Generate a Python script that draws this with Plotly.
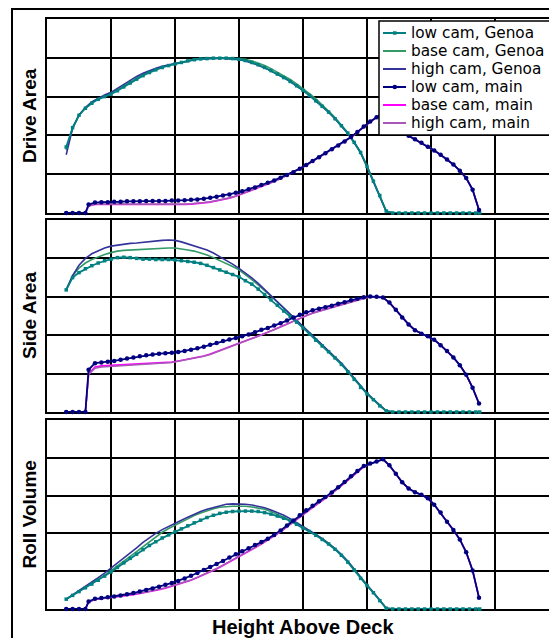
import plotly.graph_objects as go

# The page body has an 8px margin, so the figure is sized to fit the 557x638 window
PAGE_W, PAGE_H, OFF = 557, 638, 8
W, H = PAGE_W - OFF, PAGE_H - OFF

# ---------------- data ----------------
X_GENOA = [0.3, 0.4, 0.5, 0.6, 0.7, 0.8, 0.9, 1.0, 1.1, 1.2, 1.3, 1.4, 1.5, 1.6, 1.7, 1.8, 1.9,
           2.0, 2.1, 2.2, 2.3, 2.4, 2.5, 2.6, 2.7, 2.8, 2.9, 3.0, 3.1, 3.2, 3.3, 3.4, 3.5, 3.6,
           3.7, 3.8, 3.9, 4.0, 4.1, 4.2, 4.3, 4.4, 4.5, 4.6, 4.7, 4.8, 4.9, 5.0, 5.1, 5.2, 5.3,
           5.4, 5.5, 5.6, 5.7, 5.8, 5.9, 6.0, 6.1, 6.2, 6.3, 6.4, 6.5, 6.6, 6.7, 6.76]
X_MAIN = [0.3, 0.4, 0.5, 0.6,
          0.65, 0.75, 0.85, 0.95, 1.05, 1.15, 1.25, 1.35, 1.45, 1.55,
          1.65, 1.75, 1.85, 1.95, 2.05, 2.15, 2.25, 2.35, 2.45, 2.55,
          2.65, 2.75, 2.85, 2.95, 3.05, 3.15, 3.25, 3.35, 3.45, 3.55,
          3.65, 3.75, 3.85, 3.95, 4.05, 4.15, 4.25, 4.35, 4.45, 4.55,
          4.65, 4.75, 4.85, 4.95, 5.05, 5.15, 5.25, 5.35, 5.45, 5.55,
          5.65, 5.75, 5.85, 5.95, 6.05, 6.15, 6.25, 6.35, 6.45, 6.55,
          6.65, 6.75]

# Drive Area
DRIVE_LOW_GENOA = [1.70, 2.20, 2.52, 2.70, 2.83, 2.93, 3.00, 3.06, 3.15, 3.25, 3.35, 3.45, 3.54, 3.62, 3.69,
                   3.75, 3.80, 3.84, 3.88, 3.92, 3.95, 3.97, 3.98, 3.99, 3.99, 3.99, 3.98, 3.96, 3.93, 3.88,
                   3.82, 3.75, 3.67, 3.58, 3.49, 3.39, 3.28, 3.16, 3.03, 2.89, 2.75, 2.60, 2.43, 2.25, 2.06,
                   1.82, 1.56, 1.20, 0.82, 0.45, 0.05,
                   0, 0, 0, 0, 0, 0, 0, 0, 0, 0, 0, 0, 0, 0, 0]
DRIVE_BASE_GENOA = [1.62, 2.19, 2.52, 2.71, 2.85, 2.95, 3.02, 3.09, 3.18, 3.28, 3.38, 3.48, 3.57, 3.64, 3.71,
                    3.77, 3.81, 3.85, 3.89, 3.93, 3.96, 3.98, 3.99, 4.00, 4.00, 4.00, 3.99, 3.98, 3.96, 3.92,
                    3.87, 3.80, 3.72, 3.63, 3.54, 3.44, 3.33, 3.21, 3.08, 2.94, 2.79, 2.63, 2.46, 2.27, 2.07,
                    1.83, 1.57, 1.21, 0.83, 0.46, 0.05,
                    0, 0, 0, 0, 0, 0, 0, 0, 0, 0, 0, 0, 0, 0, 0]
DRIVE_HIGH_GENOA = [1.50, 2.18, 2.53, 2.72, 2.86, 2.96, 3.04, 3.11, 3.21, 3.32, 3.43, 3.52, 3.60, 3.67, 3.73,
                    3.78, 3.82, 3.85, 3.88, 3.92, 3.95, 3.97, 3.98, 3.99, 3.99, 3.98, 3.97, 3.95, 3.92, 3.87,
                    3.81, 3.74, 3.66, 3.58, 3.49, 3.39, 3.28, 3.16, 3.03, 2.89, 2.75, 2.60, 2.43, 2.25, 2.05,
                    1.81, 1.55, 1.19, 0.81, 0.44, 0.04,
                    0, 0, 0, 0, 0, 0, 0, 0, 0, 0, 0, 0, 0, 0, 0]
DRIVE_LOW_MAIN = [0, 0, 0, 0,
                  0.22, 0.27, 0.28, 0.28, 0.29, 0.29, 0.30, 0.30, 0.30, 0.31,
                  0.31, 0.31, 0.31, 0.32, 0.32, 0.33, 0.34, 0.35, 0.37, 0.39,
                  0.42, 0.45, 0.48, 0.52, 0.56, 0.61, 0.66, 0.72, 0.78, 0.84,
                  0.91, 0.98, 1.05, 1.14, 1.24, 1.34, 1.44, 1.54, 1.64, 1.74,
                  1.84, 1.96, 2.09, 2.23, 2.36, 2.47, 2.58, 2.55, 2.33, 2.12,
                  1.99, 1.90, 1.81, 1.71, 1.61, 1.50, 1.38, 1.25, 1.09, 0.90,
                  0.60, 0.08]
DRIVE_BASE_MAIN = [0, 0, 0, 0,
                   0.18, 0.22, 0.22, 0.22, 0.22, 0.22, 0.22, 0.21, 0.21, 0.21,
                   0.21, 0.21, 0.21, 0.21, 0.21, 0.22, 0.23, 0.24, 0.26, 0.28,
                   0.31, 0.34, 0.38, 0.43, 0.49, 0.55, 0.61, 0.67, 0.74, 0.81,
                   0.89, 0.97, 1.05, 1.14, 1.23, 1.33, 1.43, 1.53, 1.63, 1.73,
                   1.83, 1.95, 2.08, 2.22, 2.35, 2.46, 2.57, 2.54, 2.33, 2.12,
                   1.99, 1.90, 1.81, 1.71, 1.61, 1.50, 1.38, 1.25, 1.09, 0.90,
                   0.60, 0.08]
DRIVE_HIGH_MAIN = [0, 0, 0, 0,
                   0.19, 0.23, 0.23, 0.23, 0.23, 0.23, 0.23, 0.22, 0.22, 0.22,
                   0.22, 0.22, 0.22, 0.22, 0.22, 0.23, 0.24, 0.25, 0.27, 0.29,
                   0.32, 0.35, 0.39, 0.44, 0.50, 0.56, 0.62, 0.68, 0.75, 0.82,
                   0.89, 0.97, 1.05, 1.14, 1.23, 1.33, 1.43, 1.53, 1.63, 1.73,
                   1.83, 1.95, 2.08, 2.22, 2.35, 2.46, 2.57, 2.54, 2.33, 2.12,
                   1.99, 1.90, 1.81, 1.71, 1.61, 1.50, 1.38, 1.25, 1.09, 0.90,
                   0.60, 0.08]

# Side Area
SIDE_LOW_GENOA = [3.18, 3.50, 3.63, 3.73, 3.81, 3.88, 3.94, 3.98, 4.02, 4.03, 4.02, 4.00, 3.98, 3.98, 3.97,
                  3.97, 3.97, 3.96, 3.94, 3.92, 3.90, 3.87, 3.82, 3.76, 3.70, 3.64, 3.58, 3.52, 3.42, 3.33,
                  3.20, 3.06, 2.92, 2.78, 2.63, 2.49, 2.34, 2.19, 2.03, 1.87, 1.72, 1.57, 1.41, 1.24, 1.05,
                  0.85, 0.64, 0.47, 0.32, 0.16, 0.03,
                  0, 0, 0, 0, 0, 0, 0, 0, 0, 0, 0, 0, 0, 0, 0]
SIDE_BASE_GENOA = [3.18, 3.55, 3.75, 3.88, 3.97, 4.04, 4.10, 4.15, 4.19, 4.21, 4.22, 4.23, 4.24, 4.24, 4.25,
                   4.26, 4.27, 4.27, 4.25, 4.22, 4.19, 4.15, 4.09, 4.02, 3.95, 3.87, 3.79, 3.70, 3.58, 3.45,
                   3.31, 3.17, 3.02, 2.86, 2.70, 2.54, 2.38, 2.22, 2.06, 1.90, 1.74, 1.59, 1.43, 1.26, 1.07,
                   0.87, 0.66, 0.48, 0.33, 0.17, 0.03,
                   0, 0, 0, 0, 0, 0, 0, 0, 0, 0, 0, 0, 0, 0, 0]
SIDE_HIGH_GENOA = [3.18, 3.55, 3.82, 4.00, 4.12, 4.20, 4.27, 4.32, 4.35, 4.38, 4.39, 4.40, 4.42, 4.44, 4.46,
                   4.47, 4.48, 4.47, 4.43, 4.38, 4.34, 4.29, 4.22, 4.14, 4.05, 3.96, 3.85, 3.74, 3.62, 3.49,
                   3.35, 3.19, 3.02, 2.86, 2.71, 2.56, 2.40, 2.24, 2.08, 1.92, 1.76, 1.60, 1.44, 1.27, 1.08,
                   0.88, 0.67, 0.49, 0.33, 0.17, 0.03,
                   0, 0, 0, 0, 0, 0, 0, 0, 0, 0, 0, 0, 0, 0, 0]
SIDE_LOW_MAIN = [0, 0, 0, 0,
                 1.10, 1.27, 1.29, 1.31, 1.33, 1.36, 1.39, 1.42, 1.45, 1.48,
                 1.50, 1.52, 1.53, 1.54, 1.56, 1.59, 1.62, 1.66, 1.70, 1.75,
                 1.80, 1.85, 1.89, 1.93, 1.97, 2.02, 2.08, 2.14, 2.19, 2.25,
                 2.31, 2.38, 2.46, 2.53, 2.60, 2.65, 2.69, 2.73, 2.77, 2.82,
                 2.86, 2.91, 2.95, 2.99, 3.01, 3.00, 2.98, 2.85, 2.66, 2.46,
                 2.28, 2.13, 2.04, 1.97, 1.88, 1.74, 1.59, 1.42, 1.22, 0.97,
                 0.63, 0.22]
SIDE_BASE_MAIN = [0, 0, 0, 0,
                  1.00, 1.17, 1.20, 1.21, 1.22, 1.23, 1.24, 1.25, 1.26, 1.27,
                  1.28, 1.28, 1.29, 1.30, 1.33, 1.36, 1.39, 1.42, 1.46, 1.51,
                  1.57, 1.63, 1.69, 1.76, 1.83, 1.89, 1.95, 2.01, 2.08, 2.15,
                  2.22, 2.30, 2.38, 2.45, 2.52, 2.58, 2.63, 2.68, 2.72, 2.77,
                  2.82, 2.87, 2.92, 2.97, 3.00, 3.00, 2.98, 2.85, 2.66, 2.46,
                  2.28, 2.13, 2.04, 1.97, 1.88, 1.74, 1.59, 1.42, 1.22, 0.97,
                  0.63, 0.22]
SIDE_HIGH_MAIN = [0, 0, 0, 0,
                  0.98, 1.14, 1.17, 1.18, 1.19, 1.20, 1.21, 1.22, 1.23, 1.24,
                  1.25, 1.26, 1.27, 1.29, 1.32, 1.35, 1.38, 1.41, 1.45, 1.50,
                  1.56, 1.62, 1.68, 1.75, 1.82, 1.88, 1.94, 2.00, 2.07, 2.14,
                  2.21, 2.29, 2.37, 2.44, 2.51, 2.57, 2.62, 2.67, 2.71, 2.76,
                  2.81, 2.86, 2.91, 2.96, 3.00, 3.00, 2.98, 2.85, 2.66, 2.46,
                  2.28, 2.13, 2.04, 1.97, 1.88, 1.74, 1.59, 1.42, 1.22, 0.97,
                  0.63, 0.22]

# Roll Volume
ROLL_LOW_GENOA = [0.26, 0.36, 0.46, 0.56, 0.66, 0.76, 0.87, 0.98, 1.10, 1.22, 1.34, 1.45, 1.57, 1.68, 1.78,
                  1.88, 1.96, 2.04, 2.12, 2.20, 2.28, 2.35, 2.42, 2.48, 2.53, 2.56, 2.58, 2.59, 2.59, 2.59,
                  2.58, 2.55, 2.51, 2.46, 2.40, 2.33, 2.24, 2.14, 2.05, 1.95, 1.84, 1.72, 1.58, 1.42, 1.24,
                  1.03, 0.81, 0.62, 0.43, 0.22, 0.02,
                  0, 0, 0, 0, 0, 0, 0, 0, 0, 0, 0, 0, 0, 0, 0]
ROLL_BASE_GENOA = [0.26, 0.36, 0.46, 0.56, 0.67, 0.78, 0.89, 1.01, 1.13, 1.26, 1.39, 1.52, 1.65, 1.79, 1.92,
                   2.03, 2.13, 2.22, 2.31, 2.39, 2.47, 2.54, 2.60, 2.65, 2.69, 2.71, 2.72, 2.72, 2.72, 2.70,
                   2.68, 2.64, 2.58, 2.51, 2.43, 2.35, 2.26, 2.16, 2.07, 1.97, 1.86, 1.74, 1.60, 1.44, 1.26,
                   1.05, 0.83, 0.63, 0.44, 0.23, 0.02,
                   0, 0, 0, 0, 0, 0, 0, 0, 0, 0, 0, 0, 0, 0, 0]
ROLL_HIGH_GENOA = [0.26, 0.37, 0.48, 0.59, 0.71, 0.83, 0.95, 1.08, 1.21, 1.35, 1.48, 1.62, 1.76, 1.89, 2.00,
                   2.10, 2.19, 2.27, 2.35, 2.43, 2.51, 2.58, 2.64, 2.69, 2.73, 2.77, 2.78, 2.78, 2.77, 2.75,
                   2.72, 2.68, 2.62, 2.56, 2.48, 2.39, 2.29, 2.18, 2.08, 1.97, 1.86, 1.74, 1.60, 1.44, 1.26,
                   1.05, 0.83, 0.63, 0.44, 0.23, 0.02,
                   0, 0, 0, 0, 0, 0, 0, 0, 0, 0, 0, 0, 0, 0, 0]
ROLL_LOW_MAIN = [0, 0, 0, 0,
                 0.20, 0.27, 0.29, 0.31, 0.33, 0.36, 0.39, 0.42, 0.46, 0.50,
                 0.54, 0.59, 0.64, 0.69, 0.74, 0.81, 0.88, 0.95, 1.03, 1.11,
                 1.19, 1.27, 1.36, 1.45, 1.53, 1.61, 1.69, 1.77, 1.86, 1.96,
                 2.08, 2.21, 2.34, 2.48, 2.61, 2.73, 2.85, 2.96, 3.08, 3.22,
                 3.36, 3.51, 3.65, 3.78, 3.85, 3.90, 3.96, 3.80, 3.58, 3.35,
                 3.19, 3.09, 3.02, 2.93, 2.76, 2.55, 2.31, 2.09, 1.84, 1.50,
                 1.02, 0.30]
ROLL_BASE_MAIN = [0, 0, 0, 0,
                  0.18, 0.25, 0.27, 0.29, 0.31, 0.33, 0.36, 0.38, 0.41, 0.44,
                  0.47, 0.51, 0.55, 0.60, 0.65, 0.70, 0.76, 0.83, 0.90, 0.98,
                  1.06, 1.15, 1.24, 1.33, 1.42, 1.52, 1.62, 1.72, 1.82, 1.92,
                  2.04, 2.17, 2.30, 2.44, 2.57, 2.69, 2.81, 2.93, 3.05, 3.19,
                  3.33, 3.48, 3.62, 3.76, 3.84, 3.90, 3.96, 3.80, 3.58, 3.35,
                  3.19, 3.09, 3.02, 2.93, 2.76, 2.55, 2.31, 2.09, 1.84, 1.50,
                  1.02, 0.30]
ROLL_HIGH_MAIN = [0, 0, 0, 0,
                  0.19, 0.26, 0.28, 0.30, 0.32, 0.34, 0.37, 0.39, 0.42, 0.45,
                  0.48, 0.52, 0.56, 0.61, 0.66, 0.71, 0.77, 0.84, 0.91, 0.99,
                  1.07, 1.16, 1.25, 1.34, 1.43, 1.53, 1.63, 1.73, 1.83, 1.93,
                  2.05, 2.18, 2.31, 2.45, 2.58, 2.70, 2.82, 2.94, 3.06, 3.20,
                  3.34, 3.49, 3.63, 3.77, 3.84, 3.90, 3.96, 3.80, 3.58, 3.35,
                  3.19, 3.09, 3.02, 2.93, 2.76, 2.55, 2.31, 2.09, 1.84, 1.50,
                  1.02, 0.30]

SERIES_NAMES = ["low cam, Genoa", "base cam, Genoa", "high cam, Genoa",
                "low cam, main", "base cam, main", "high cam, main"]
PANEL_TITLES = ["Drive Area", "Side Area", "Roll Volume"]
X_TITLE = "Height Above Deck"

PANELS = [
    [DRIVE_LOW_GENOA, DRIVE_BASE_GENOA, DRIVE_HIGH_GENOA, DRIVE_LOW_MAIN, DRIVE_BASE_MAIN, DRIVE_HIGH_MAIN],
    [SIDE_LOW_GENOA, SIDE_BASE_GENOA, SIDE_HIGH_GENOA, SIDE_LOW_MAIN, SIDE_BASE_MAIN, SIDE_HIGH_MAIN],
    [ROLL_LOW_GENOA, ROLL_BASE_GENOA, ROLL_HIGH_GENOA, ROLL_LOW_MAIN, ROLL_BASE_MAIN, ROLL_HIGH_MAIN],
]

# ---------------- styling ----------------
COLORS = ["#008080", "#339966", "#333399", "#000080", "#FF00FF", "#A857B8"]
FONT = "Liberation Sans, Arial, Helvetica, sans-serif"
LEGEND_FONT = "DejaVu Sans, Liberation Sans, Arial, sans-serif"


def px_x(px):
    """page pixel -> paper x"""
    return (px - OFF) / W


def px_y(py):
    """page pixel -> paper y"""
    return 1 - (py - OFF) / H


PLOT_X = (47, 556)
PANEL_Y = [(19, 213), (220, 412), (420, 609)]
X_RANGE = [0, 7.953]

fig = go.Figure()

# draw order: base/high first, low cams on top
ORDER = [1, 2, 4, 5, 0, 3]
for p, series in enumerate(PANELS):
    xa = "x" if p == 0 else f"x{p + 1}"
    ya = "y" if p == 0 else f"y{p + 1}"
    for i in ORDER:
        xs = X_GENOA if i < 3 else X_MAIN
        if i == 0:
            mode, marker = "lines+markers", dict(symbol="square", size=3.5, color=COLORS[i])
        elif i == 3:
            mode, marker = "lines+markers", dict(symbol="circle", size=4.5, color=COLORS[i])
        else:
            mode, marker = "lines", None
        tr = go.Scatter(x=xs, y=series[i], mode=mode, name=SERIES_NAMES[i],
                        line=dict(color=COLORS[i], width=1.8 if i in (0, 3) else 1.6),
                        xaxis=xa, yaxis=ya, showlegend=False, cliponaxis=False,
                        hoverinfo="skip")
        if marker:
            tr.marker = marker
        fig.add_trace(tr)

layout = dict(
    width=W, height=H,
    margin=dict(l=0, r=0, t=0, b=0, pad=0),
    paper_bgcolor="white", plot_bgcolor="white",
    showlegend=False,
    font=dict(family=FONT, color="black"),
)
for p, (top, bot) in enumerate(PANEL_Y):
    sfx = "" if p == 0 else str(p + 1)
    layout["xaxis" + sfx] = dict(
        domain=[px_x(PLOT_X[0]), min(1.0, px_x(PLOT_X[1]))], range=X_RANGE,
        anchor="y" + sfx, tickmode="linear", tick0=0, dtick=1,
        showticklabels=False, ticks="", showgrid=True, gridcolor="black", gridwidth=1.6,
        showline=True, mirror=True, linecolor="black", linewidth=2, zeroline=False,
        layer="below traces", fixedrange=True)
    layout["yaxis" + sfx] = dict(
        domain=[px_y(bot), px_y(top)], range=[0, 5],
        anchor="x" + sfx, tickmode="linear", tick0=0, dtick=1,
        showticklabels=False, ticks="", showgrid=True, gridcolor="black", gridwidth=1.6,
        showline=True, mirror=True, linecolor="black", linewidth=2, zeroline=False,
        layer="below traces", fixedrange=True)
fig.update_layout(**layout)

shapes = []
annotations = []
# outer frame
shapes.append(dict(type="rect", xref="paper", yref="paper",
                   x0=px_x(12), x1=px_x(PAGE_W + 10), y0=px_y(PAGE_H + 10), y1=px_y(9),
                   line=dict(color="black", width=2), fillcolor="rgba(0,0,0,0)", layer="above"))

# panel titles
for p, (top, bot) in enumerate(PANEL_Y):
    annotations.append(dict(text=PANEL_TITLES[p], xref="paper", yref="paper",
                            x=px_x(29), y=px_y((top + bot) / 2), textangle=-90,
                            showarrow=False, xanchor="center", yanchor="middle",
                            font=dict(family=FONT, size=19, color="black", weight="bold")))
annotations.append(dict(text=X_TITLE, xref="paper", yref="paper",
                        x=px_x(302.5), y=px_y(627), showarrow=False,
                        xanchor="center", yanchor="middle",
                        font=dict(family=FONT, size=20, color="black", weight="bold")))

# legend box (drawn manually to match the original compact layout)
LEG = dict(x0=379, x1=554, y0=21, y1=135)
ROW_GAP = 18.0
for_row0 = 33.0
shapes.append(dict(type="rect", xref="paper", yref="paper",
                   x0=px_x(LEG["x0"]), x1=px_x(LEG["x1"]),
                   y0=px_y(LEG["y1"]), y1=px_y(LEG["y0"]),
                   line=dict(color="black", width=1.5), fillcolor="white", layer="above"))
for i, name in enumerate(SERIES_NAMES):
    ry = for_row0 + ROW_GAP * i
    shapes.append(dict(type="line", xref="paper", yref="paper",
                       x0=px_x(383), x1=px_x(406), y0=px_y(ry), y1=px_y(ry),
                       line=dict(color=COLORS[i], width=2), layer="above"))
    if i == 0:
        shapes.append(dict(type="rect", xref="paper", yref="paper",
                           x0=px_x(393), x1=px_x(396.5), y0=px_y(ry + 1.75), y1=px_y(ry - 1.75),
                           line=dict(width=0), fillcolor=COLORS[i], layer="above"))
    if i == 3:
        shapes.append(dict(type="circle", xref="paper", yref="paper",
                           x0=px_x(392.5), x1=px_x(397), y0=px_y(ry + 2.25), y1=px_y(ry - 2.25),
                           line=dict(width=0), fillcolor=COLORS[i], layer="above"))
    annotations.append(dict(text=name, xref="paper", yref="paper",
                            x=px_x(409), y=px_y(ry), showarrow=False,
                            xanchor="left", yanchor="middle",
                            font=dict(family=LEGEND_FONT, size=15.3, color="black")))

fig.update_layout(shapes=shapes, annotations=annotations)
fig.write_html("out.html")
